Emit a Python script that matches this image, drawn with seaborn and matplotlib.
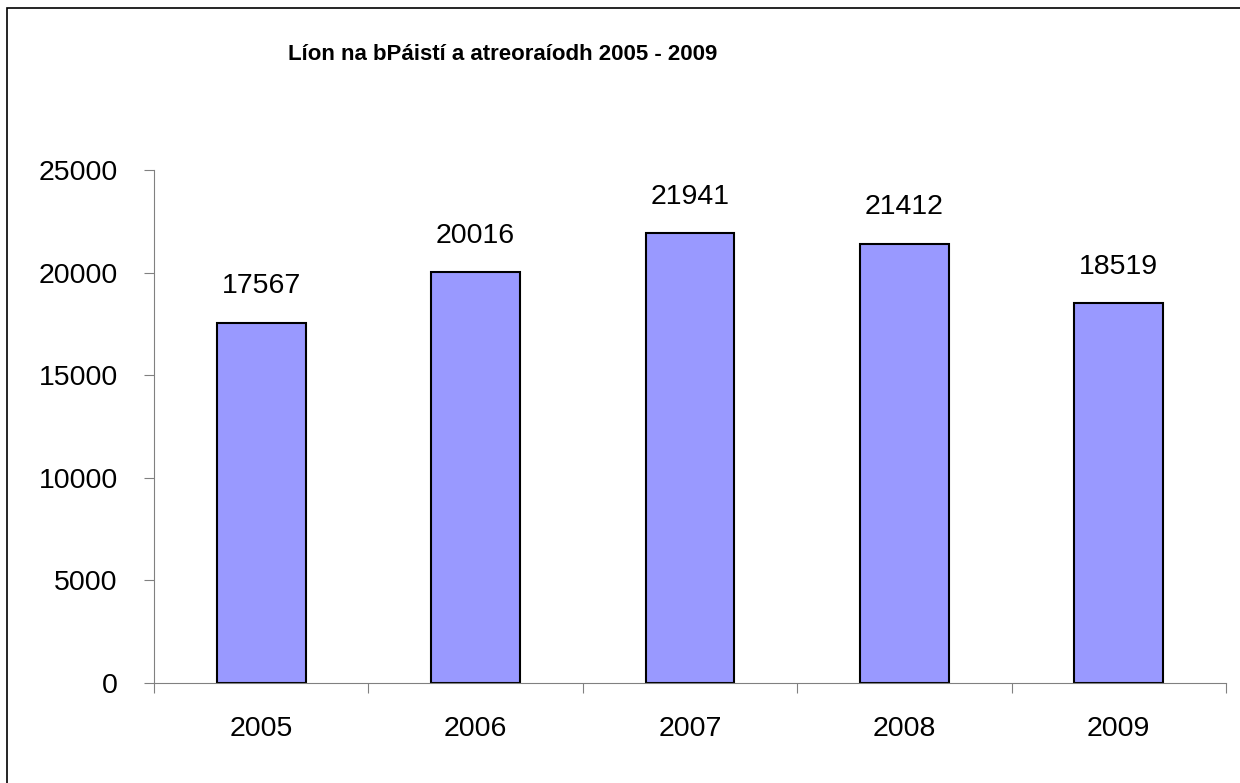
import matplotlib
matplotlib.use("Agg")
import matplotlib.pyplot as plt
import matplotlib.patches as patches
import seaborn as sns
import pandas as pd

years = ["2005", "2006", "2007", "2008", "2009"]
counts = [17567, 20016, 21941, 21412, 18519]
title = "Líon na bPáistí a atreoraíodh 2005 - 2009"

sns.set_style("white")
plt.rcParams["font.family"] = ["Liberation Sans", "DejaVu Sans"]
plt.rcParams["text.color"] = "black"
plt.rcParams["xtick.color"] = "black"
plt.rcParams["ytick.color"] = "black"

df = pd.DataFrame({"year": years, "count": counts})

fig = plt.figure(figsize=(12.4, 7.83), dpi=100)
ax = fig.add_axes([154 / 1240, 100 / 783, 1072 / 1240, 513 / 783])

sns.barplot(data=df, x="year", y="count", color="#9999FF", saturation=1,
            width=0.415, edgecolor="black", linewidth=1.5, ax=ax)

ax.set_xlim(-0.5, len(years) - 0.5)
ax.set_ylim(0, 25000)
ax.set_yticks([0, 5000, 10000, 15000, 20000, 25000])
ax.set_xlabel("")
ax.set_ylabel("")

# labels at bar centres, tick marks between categories
ax.set_xticks(range(len(years)))
ax.set_xticklabels(years)
ax.set_xticks([i - 0.5 for i in range(len(years) + 1)], minor=True)
ax.tick_params(axis="x", which="major", bottom=True, length=0, pad=24,
               labelsize=20.5, labelcolor="black")
ax.tick_params(axis="x", which="minor", bottom=True, length=7, width=0.8,
               color="#808080", direction="out")
ax.tick_params(axis="y", left=True, length=7, width=0.8, color="#808080",
               direction="out", pad=19, labelsize=20.5, labelcolor="black")

for s in ["top", "right"]:
    ax.spines[s].set_visible(False)
for s in ["left", "bottom"]:
    ax.spines[s].set_color("#808080")
    ax.spines[s].set_linewidth(0.8)

for i, v in enumerate(counts):
    ax.annotate(str(v), (i, v), xytext=(0, 21), textcoords="offset points",
                ha="center", va="baseline", fontsize=20.5, color="black")

fig.text(288 / 1240, 1 - 60 / 783, title, fontsize=16, fontweight="bold",
         ha="left", va="baseline", color="black")

# chart border (right and bottom edges fall outside the image)
fig.patches.append(patches.Rectangle((7 / 1240, -0.1), 2, 0.1 + 1 - 8 / 783,
                                     transform=fig.transFigure, fill=False,
                                     edgecolor="black", linewidth=1.2))

fig.savefig("out.png", dpi=100)
